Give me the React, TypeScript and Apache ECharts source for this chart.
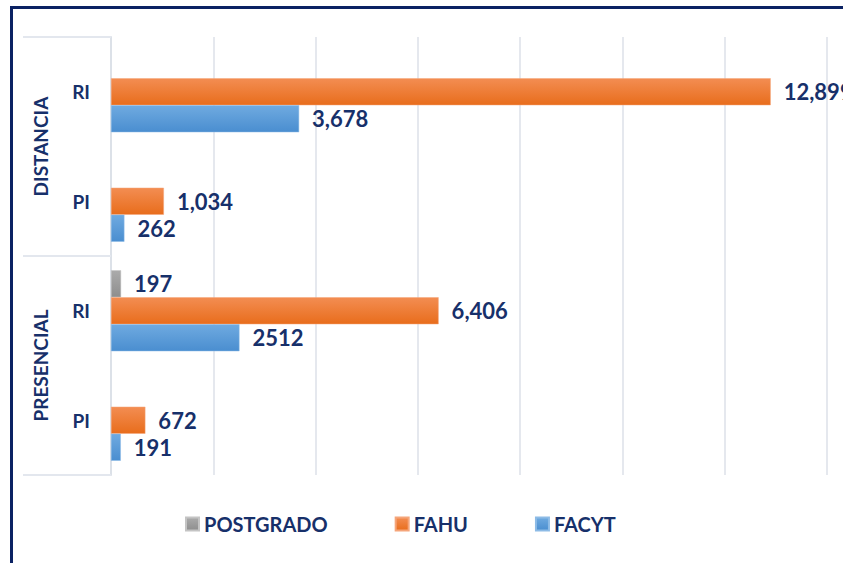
import React, { useEffect, useRef } from 'react';
import * as echarts from 'echarts';

const groups = ['PRESENCIAL', 'DISTANCIA'];
const categories = ['PRESENCIAL|PI', 'PRESENCIAL|RI', 'DISTANCIA|PI', 'DISTANCIA|RI'];
const postgrado = [null, 197, null, null];
const fahu = [672, 6406, 1034, 12899];
const facyt = [191, 2512, 262, 3678];
const postgradoLabels = ['', '197', '', ''];
const fahuLabels = ['672', '6,406', '1,034', '12,899'];
const facytLabels = ['191', '2512', '262', '3,678'];
const xMin = 0;
const xMax = 14000;
const xInterval = 2000;

const NAVY = '#17306A';
const FONT = 'Lato';

const grad = (top: string, bottom: string) =>
  new echarts.graphic.LinearGradient(0, 0, 0, 1, [
    { offset: 0, color: top },
    { offset: 1, color: bottom },
  ]);

export default function App() {
  const ref = useRef<HTMLDivElement>(null);
  useEffect(() => {
    if (!ref.current) return;
    const chart = echarts.init(ref.current, undefined, { renderer: 'svg' });
    const labelStyle = (labels: string[]) => ({
      show: true,
      position: 'right' as const,
      distance: 13,
      color: NAVY,
      fontFamily: FONT,
      fontWeight: 'bold' as const,
      fontSize: 22,
      formatter: (p: any) => labels[p.dataIndex],
    });
    chart.setOption({
      animation: false,
      backgroundColor: '#ffffff',
      graphic: [
        {
          type: 'rect',
          shape: { x: 11.5, y: 7.5, width: 900, height: 700 },
          style: { fill: 'none', stroke: '#0B2263', lineWidth: 3 },
          silent: true,
        },
      ],
      legend: {
        data: ['POSTGRADO', 'FAHU', 'FACYT'],
        left: 180,
        top: 509,
        itemWidth: 13,
        itemHeight: 13,
        itemGap: 67,
        icon: 'rect',
        textStyle: { color: NAVY, fontFamily: FONT, fontWeight: 'bold', fontSize: 20 },
      },
      grid: { left: 111, right: 16, top: 37, bottom: 88 },
      xAxis: {
        type: 'value',
        min: xMin,
        max: xMax,
        interval: xInterval,
        axisLabel: { show: false },
        axisLine: { show: false },
        axisTick: { show: false },
        splitLine: { show: true, lineStyle: { color: '#DCE1E8', width: 1.5 } },
      },
      yAxis: [
        {
          type: 'category',
          data: categories,
          axisLine: { show: true, lineStyle: { color: '#DCE1E8', width: 2 } },
          axisTick: { show: false },
          axisLabel: {
            color: NAVY,
            fontFamily: FONT,
            fontWeight: 'bold',
            fontSize: 19,
            margin: 21,
            formatter: (v: string) => v.split('|')[1],
          },
        },
        {
          type: 'category',
          data: groups,
          position: 'left',
          offset: 88,
          axisLine: { show: false },
          axisTick: { show: true, inside: true, length: 88, lineStyle: { color: '#E3E7EE', width: 2 } },
          axisLabel: {
            inside: true,
            rotate: 90,
            margin: 8,
            color: NAVY,
            fontFamily: FONT,
            fontWeight: 'bold',
            fontSize: 19,
          },
        },
      ],
      series: [
        {
          name: 'POSTGRADO',
          type: 'bar',
          data: postgrado,
          barGap: '0%',
          barCategoryGap: '26%',
          itemStyle: { color: grad('#ABABAB', '#8E8E8E'), borderColor: '#C4C4C4', borderWidth: 0.5 },
          label: labelStyle(postgradoLabels),
        },
        {
          name: 'FAHU',
          type: 'bar',
          data: fahu,
          barGap: '0%',
          barCategoryGap: '26%',
          itemStyle: { color: grad('#F38D52', '#E86D1C'), borderColor: '#F5A57A', borderWidth: 0.5 },
          label: labelStyle(fahuLabels),
        },
        {
          name: 'FACYT',
          type: 'bar',
          data: facyt,
          barGap: '0%',
          barCategoryGap: '26%',
          itemStyle: { color: grad('#6FAAE0', '#4A8ED0'), borderColor: '#8DBBE6', borderWidth: 0.5 },
          label: labelStyle(facytLabels),
        },
      ],
    });
    return () => chart.dispose();
  }, []);
  return (
    <div
      ref={ref}
      style={{ position: 'fixed', left: 0, top: 0, width: 843, height: 563 }}
    />
  );
}
